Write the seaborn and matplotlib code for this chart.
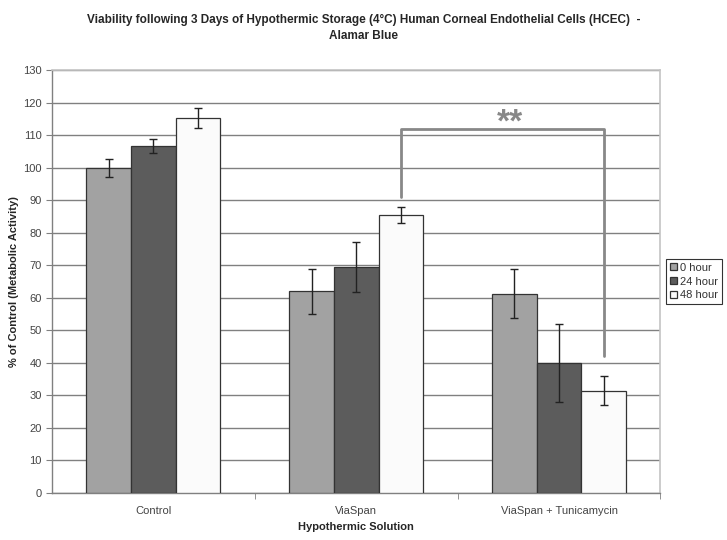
import numpy as np
import pandas as pd
import matplotlib
matplotlib.use("Agg")
import matplotlib.pyplot as plt
import seaborn as sns

# Data
solutions = ["Control", "ViaSpan", "ViaSpan + Tunicamycin"]
timepoints = ["0 hour", "24 hour", "48 hour"]
viability = {
    "0 hour": [100.0, 62.0, 61.3],
    "24 hour": [106.6, 69.5, 40.0],
    "48 hour": [115.3, 85.5, 31.5],
}
sem = {
    "0 hour": [2.8, 7.0, 7.5],
    "24 hour": [2.2, 7.8, 12.0],
    "48 hour": [3.2, 2.5, 4.5],
}
bar_colors = ["#a2a2a2", "#5c5c5c", "#fbfbfb"]

rows = []
for t in timepoints:
    for s, v, e in zip(solutions, viability[t], sem[t]):
        rows.append({"solution": s, "time": t, "value": v, "err": e})
df = pd.DataFrame(rows)

sns.set_style("white")
plt.rcParams["font.family"] = ["Liberation Sans", "DejaVu Sans"]

fig = plt.figure(figsize=(7.27, 5.4), dpi=100)
ax = fig.add_axes([0.0715, 0.087, 0.837, 0.783])

sns.barplot(
    data=df, x="solution", y="value", hue="time",
    order=solutions, hue_order=timepoints,
    palette=bar_colors, errorbar=None, width=0.66,
    edgecolor="#333333", linewidth=0.9, ax=ax, zorder=3,
)

# error bars at the bar centres
for container, t in zip(ax.containers, timepoints):
    xs = [p.get_x() + p.get_width() / 2 for p in container.patches]
    ax.errorbar(xs, viability[t], yerr=sem[t], fmt="none",
                ecolor="#222222", elinewidth=1.0, capsize=3, capthick=1.0,
                zorder=4)

ax.set_ylim(0, 130)
ax.set_yticks(np.arange(0, 131, 10))
ax.set_xlim(-0.5, 2.5)
ax.yaxis.grid(True, color="#808080", linewidth=1.0, zorder=0)
ax.set_axisbelow(True)
for side in ["top", "right"]:
    ax.spines[side].set_color("#c4c4c4")
    ax.spines[side].set_linewidth(1.2)
for side in ["left", "bottom"]:
    ax.spines[side].set_color("#808080")
    ax.spines[side].set_linewidth(1.0)

ax.tick_params(axis="y", which="both", left=True, length=4, color="#808080",
               labelsize=8, labelcolor="#444444")
ax.set_xticks([0, 1, 2])
ax.set_xticklabels(solutions)
ax.tick_params(axis="x", bottom=False, labelsize=8, labelcolor="#444444", pad=6)
ax.set_xticks([0.5, 1.5, 2.5], minor=True)
ax.tick_params(axis="x", which="minor", bottom=True, length=4, color="#808080")

ax.set_xlabel("Hypothermic Solution", fontsize=8, fontweight="bold", labelpad=4)
ax.set_ylabel("% of Control (Metabolic Activity)", fontsize=8,
              fontweight="bold", labelpad=3)

fig.suptitle("Viability following 3 Days of Hypothermic Storage (4°C) Human Corneal "
             "Endothelial Cells (HCEC)  -\nAlamar Blue",
             fontsize=8.5, fontweight="bold", y=0.975, x=0.5, linespacing=1.5)

# significance bracket between ViaSpan 48h and ViaSpan + Tunicamycin 48h
p_left = ax.containers[2].patches[1]
p_right = ax.containers[2].patches[2]
x_left = p_left.get_x() + p_left.get_width() / 2
x_right = p_right.get_x() + p_right.get_width() / 2
ax.plot([x_left, x_left, x_right, x_right], [91, 112, 112, 42],
        color="#888888", linewidth=2.0, zorder=5, solid_joinstyle="round")
ax.text((x_left + x_right) / 2 + 0.04, 109, "**", ha="center", va="bottom",
        fontsize=24, fontweight="bold", color="#888888", zorder=6)

leg = ax.legend(loc="center left", bbox_to_anchor=(1.004, 0.5), frameon=True,
                fontsize=8, handlelength=0.6, handleheight=0.6,
                handletextpad=0.3, borderpad=0.35, borderaxespad=0.3,
                labelspacing=0.35, fancybox=False, edgecolor="#000000")
leg.get_frame().set_linewidth(0.8)
for txt in leg.get_texts():
    txt.set_color("#333333")

fig.savefig("out.png", dpi=100)
